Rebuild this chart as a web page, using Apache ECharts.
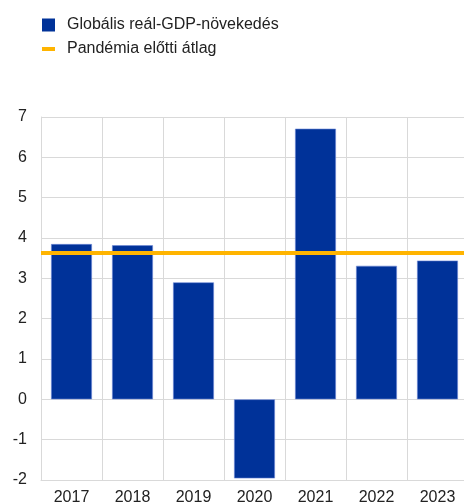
<!DOCTYPE html>
<html><head><meta charset="utf-8">
<script src="https://cdn.jsdelivr.net/npm/echarts@6/dist/echarts.min.js"></script>
<style>html,body{margin:0;padding:0;background:#fff}#c{width:464px;height:504px}</style>
</head><body><div id="c"></div>
<script>
const categories = ['2017','2018','2019','2020','2021','2022','2023'];
const gdpGrowth = [3.85, 3.82, 2.9, -1.96, 6.71, 3.31, 3.44];
const prePandemicAvg = 3.63;
const yTicks = [-2, 7, 1];
const seriesNames = ['Globális reál-GDP-növekedés', 'Pandémia előtti átlag'];

const font = 'Liberation Sans, Arial, sans-serif';
const txt = '#222';
const chart = echarts.init(document.getElementById('c'), null, {renderer:'canvas'});
chart.setOption({
  animation:false,
  textStyle:{fontFamily:font},
  legend:[
    {data:[{name:seriesNames[0], itemStyle:{borderWidth:0}}], left:37, top:12, icon:'rect', itemWidth:13, itemHeight:13,
     textStyle:{fontSize:16, color:txt, fontFamily:font, padding:[0,0,0,7]}},
    {data:[seriesNames[1]], left:37, top:36, icon:'rect', itemWidth:13, itemHeight:4,
     textStyle:{fontSize:16, color:txt, fontFamily:font, padding:[0,0,0,7]}}
  ],
  grid:{left:41, width:427, top:117, bottom:24, containLabel:false, outerBoundsMode:'none'},
  xAxis:{type:'category', data:categories, boundaryGap:true,
    axisLine:{onZero:false, lineStyle:{color:'#d9d9d9'}}, axisTick:{show:false},
    axisLabel:{fontSize:16, color:txt, margin:10, fontFamily:font},
    splitLine:{show:true, lineStyle:{color:'#d9d9d9', width:1}}},
  yAxis:{type:'value', min:yTicks[0], max:yTicks[1], interval:yTicks[2],
    axisLine:{show:true, lineStyle:{color:'#d9d9d9'}}, axisTick:{show:false},
    axisLabel:{fontSize:16, color:txt, margin:14, fontFamily:font},
    splitLine:{lineStyle:{color:'#d9d9d9', width:1}}},
  series:[
    {name:seriesNames[0], type:'bar', data:gdpGrowth, barWidth:'67%',
     itemStyle:{color:'#003299', borderColor:'#6f8ad6', borderWidth:0.6}},
    {name:seriesNames[1], type:'line', data:[], itemStyle:{color:'#ffb400'}, lineStyle:{color:'#ffb400'},
     markLine:{symbol:'none', silent:true, label:{show:false},
       lineStyle:{color:'#ffb400', width:4, type:'solid'},
       data:[{yAxis:prePandemicAvg}]}}
  ]
});
</script></body></html>
